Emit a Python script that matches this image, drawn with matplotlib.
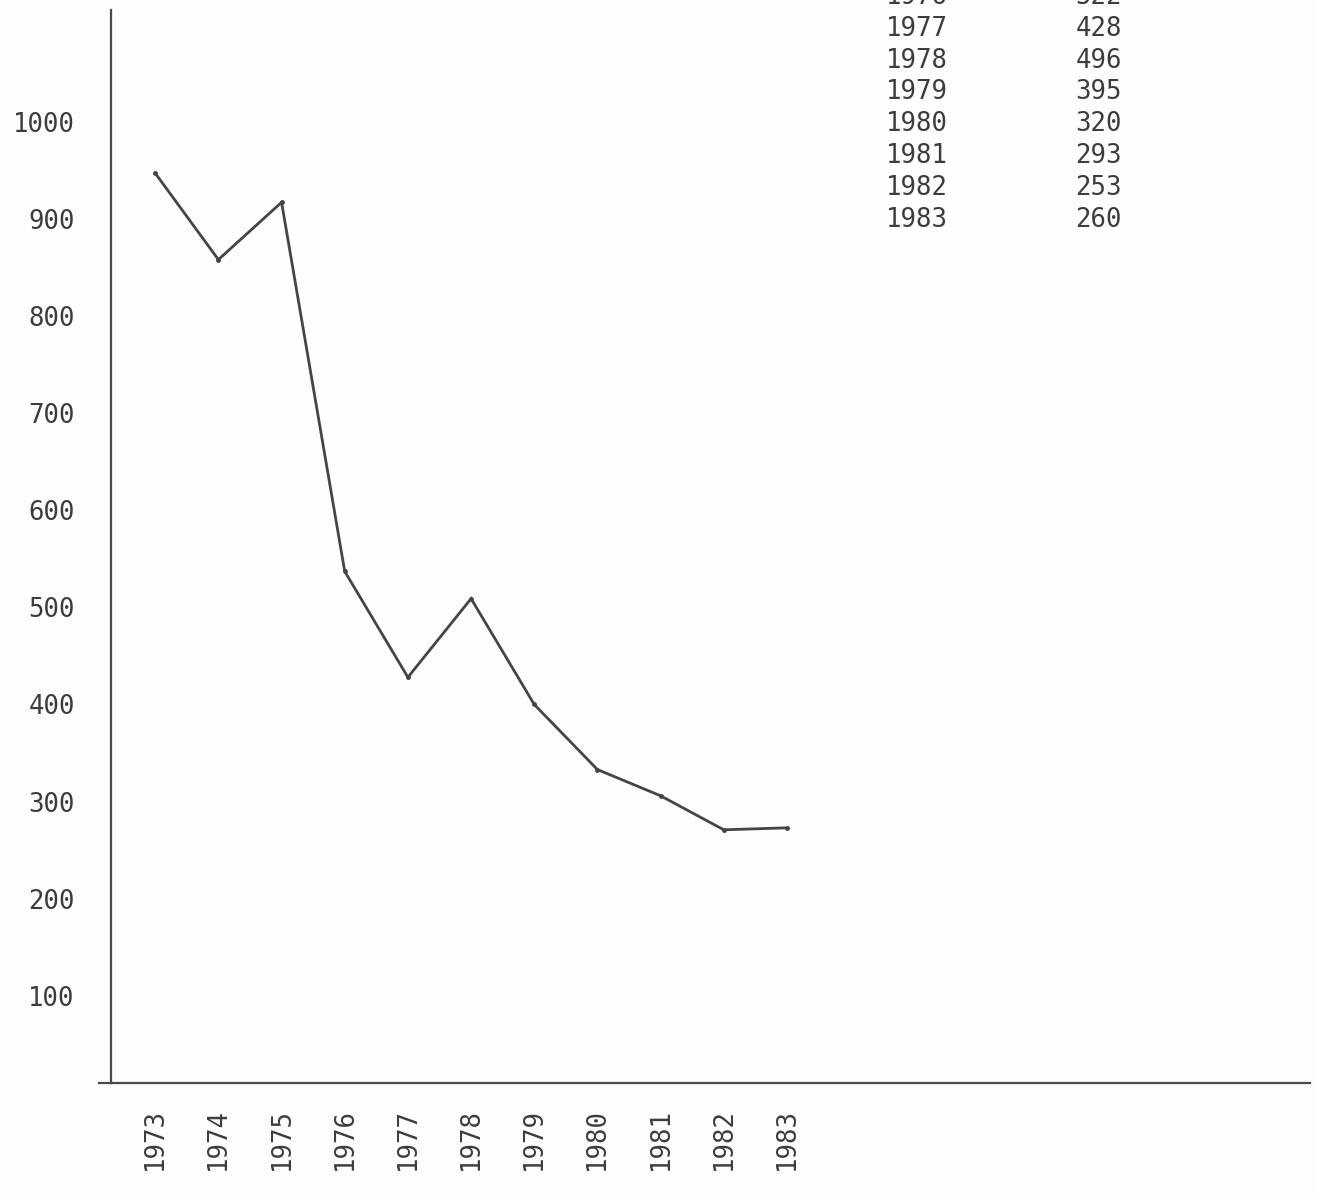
import matplotlib
matplotlib.use('Agg')
import matplotlib.pyplot as plt

# Values (against the y axis labels)
years = [1973, 1974, 1975, 1976, 1977, 1978, 1979, 1980, 1981, 1982, 1983]
values = [947, 858, 917, 537, 428, 509, 400, 333, 306, 271, 273]

y_ticks = [100, 200, 300, 400, 500, 600, 700, 800, 900, 1000]

# Typed table in the upper right
table_years = ['1976', '1977', '1978', '1979', '1980', '1981', '1982', '1983']
table_values = ['522', '428', '496', '395', '320', '293', '253', '260']

# typewriter look: narrow monospaced digits
font = ['DejaVu Sans Mono', 'DejaVu Sans']
fsize = 18.5
ink = '#3c3c3c'
plt.rcParams['font.family'] = font

W, H = 1317, 1194
fig = plt.figure(figsize=(W / 100, H / 100), dpi=100)
fig.patch.set_facecolor('#fdfdfb')

# axes box in pixels: y axis at x=111, x axis at y=1083, top at y=10, right at x=1310
left, right, top, bottom = 111, 1310, 10, 1083
ax = fig.add_axes([left / W, 1 - bottom / H, (right - left) / W, (bottom - top) / H])
ax.set_facecolor('none')

ax.plot(years, values, color='#454545', lw=2.0, marker='.', ms=5, solid_joinstyle='miter')

ax.set_xlim(1972.30, 1991.28)
ax.set_ylim(10.3, 1115)

for s in ['top', 'right']:
    ax.spines[s].set_visible(False)
ax.spines['left'].set_color('#4a4a4a')
ax.spines['left'].set_linewidth(1.6)
ax.spines['bottom'].set_color('#4a4a4a')
ax.spines['bottom'].set_linewidth(1.6)
# the x axis runs a little past the y axis on the left
ax.axhline(10.3, xmin=-0.01, xmax=0, color='#4a4a4a', lw=1.6, clip_on=False)

ax.set_yticks(y_ticks)
ax.set_yticklabels([str(v) for v in y_ticks])
ax.set_xticks(years)
ax.set_xticklabels([str(y) for y in years], rotation=90)
ax.tick_params(axis='y', length=0, pad=26, labelsize=fsize, labelcolor=ink)
ax.tick_params(axis='x', length=0, pad=18, labelsize=fsize, labelcolor=ink)

# table rows, 32.3 px apart, the first one cut off by the top edge (as in the scan)
for i, (yr, val) in enumerate(zip(table_years, table_values)):
    py = -3 + i * 31.8
    fig.text(886 / W, 1 - py / H, yr, ha='left', va='center', fontsize=fsize, color=ink)
    fig.text(1122 / W, 1 - py / H, val, ha='right', va='center', fontsize=fsize, color=ink)

fig.savefig('out.png', dpi=100, facecolor=fig.get_facecolor())
